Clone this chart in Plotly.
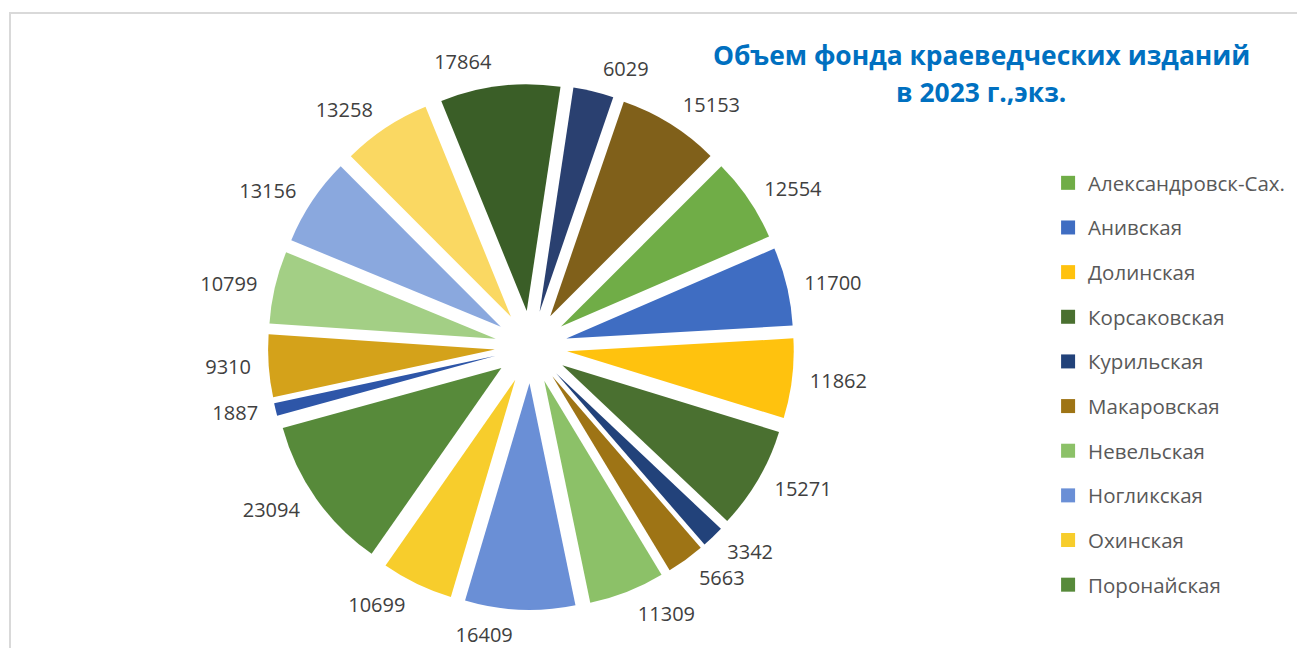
import plotly.graph_objects as go

labels = ["Александровск-Сах.", "Анивская", "Долинская", "Корсаковская", "Курильская",
          "Макаровская", "Невельская", "Ногликская", "Охинская", "Поронайская",
          "Северо-Курильская", "Смирныховская", "Томаринская", "Тымовская",
          "Углегорская", "Холмская", "Южно-Курильская", "Южно-Сахалинская"]
values = [12554, 11700, 11862, 15271, 3342, 5663, 11309, 16409, 10699, 23094,
          1887, 9310, 10799, 13156, 13258, 17864, 6029, 15153]
colors = ["#70AD47", "#3F6DC2", "#FFC20E", "#4A7030", "#22427A", "#9E7415",
          "#8CC168", "#6A8FD6", "#F7CD2C", "#578A3A", "#2E56A8", "#D4A21A",
          "#A3CF85", "#8AA8DE", "#FAD862", "#3A5E27", "#2A4070", "#80601A"]
legend_count = 10
title_line1 = "Объем фонда краеведческих изданий"
title_line2 = "в 2023 г.,экз."

W, H = 1305, 648
cx, cy = 523, 339          # pie centre (px, figure coords)
half = 263                 # outer extent of the exploded pie
label_half = 274           # outer extent used to place the value labels
rotation = 45
separate_label = 5         # label drawn by its own trace (no leader line)


def dom(h):
    return dict(x=[(cx - h) / W, (cx + h) / W], y=[1 - (cy + h) / H, 1 - (cy - h) / H])


fig = go.Figure()
# visible slices
fig.add_trace(go.Pie(
    labels=labels, values=values, sort=False, direction="clockwise", rotation=rotation,
    marker=dict(colors=colors, line=dict(width=0)),
    pull=[0.16] * len(values), textinfo="none",
    domain=dom(half), showlegend=False, hoverinfo="skip",
))
# transparent copies that only carry the value labels a bit further out
for group in (False, True):
    pos = ["outside" if ((i == separate_label) == group) else "none"
           for i in range(len(values))]
    fig.add_trace(go.Pie(
        labels=labels, values=values, sort=False, direction="clockwise", rotation=rotation,
        marker=dict(colors=["rgba(0,0,0,0)"] * len(values), line=dict(width=0)),
        pull=[0.16] * len(values),
        textposition=pos, texttemplate="%{value:.0f}",
        textfont=dict(family="Open Sans", size=20, color="#404040"),
        domain=dom(label_half), showlegend=False, hoverinfo="skip",
    ))

for i in range(legend_count):
    fig.add_trace(go.Scatter(
        x=[None], y=[None], mode="markers", name=labels[i], legendgroup=labels[i],
        marker=dict(symbol="square", size=14, color=colors[i]),
        hoverinfo="skip",
    ))

title_font = dict(family="Open Sans", size=26.4, color="#0070C0", weight="bold")
fig.update_layout(
    width=W, height=H,
    margin=dict(l=0, r=0, t=0, b=0, autoexpand=False),
    paper_bgcolor="white", plot_bgcolor="white",
    xaxis=dict(visible=False), yaxis=dict(visible=False),
    legend=dict(x=0.797, xanchor="left", y=1 - 155 / H, yanchor="top",
                font=dict(family="Open Sans", size=20.5, color="#595959"),
                traceorder="grouped", tracegroupgap=15, itemwidth=30,
                bgcolor="rgba(0,0,0,0)"),
    annotations=[
        dict(text=title_line1, x=973 / W, y=1 - 47 / H, xref="paper", yref="paper",
             showarrow=False, xanchor="center", yanchor="middle", font=title_font),
        dict(text=title_line2, x=973 / W, y=1 - 84 / H, xref="paper", yref="paper",
             showarrow=False, xanchor="center", yanchor="middle", font=title_font),
    ],
    shapes=[dict(type="rect", xref="paper", yref="paper",
                 x0=2 / W, x1=1.02, y0=-0.05, y1=1 - 5 / H,
                 line=dict(color="#D9D9D9", width=2), fillcolor="rgba(0,0,0,0)", layer="below")],
)

fig.write_html("out.html")
